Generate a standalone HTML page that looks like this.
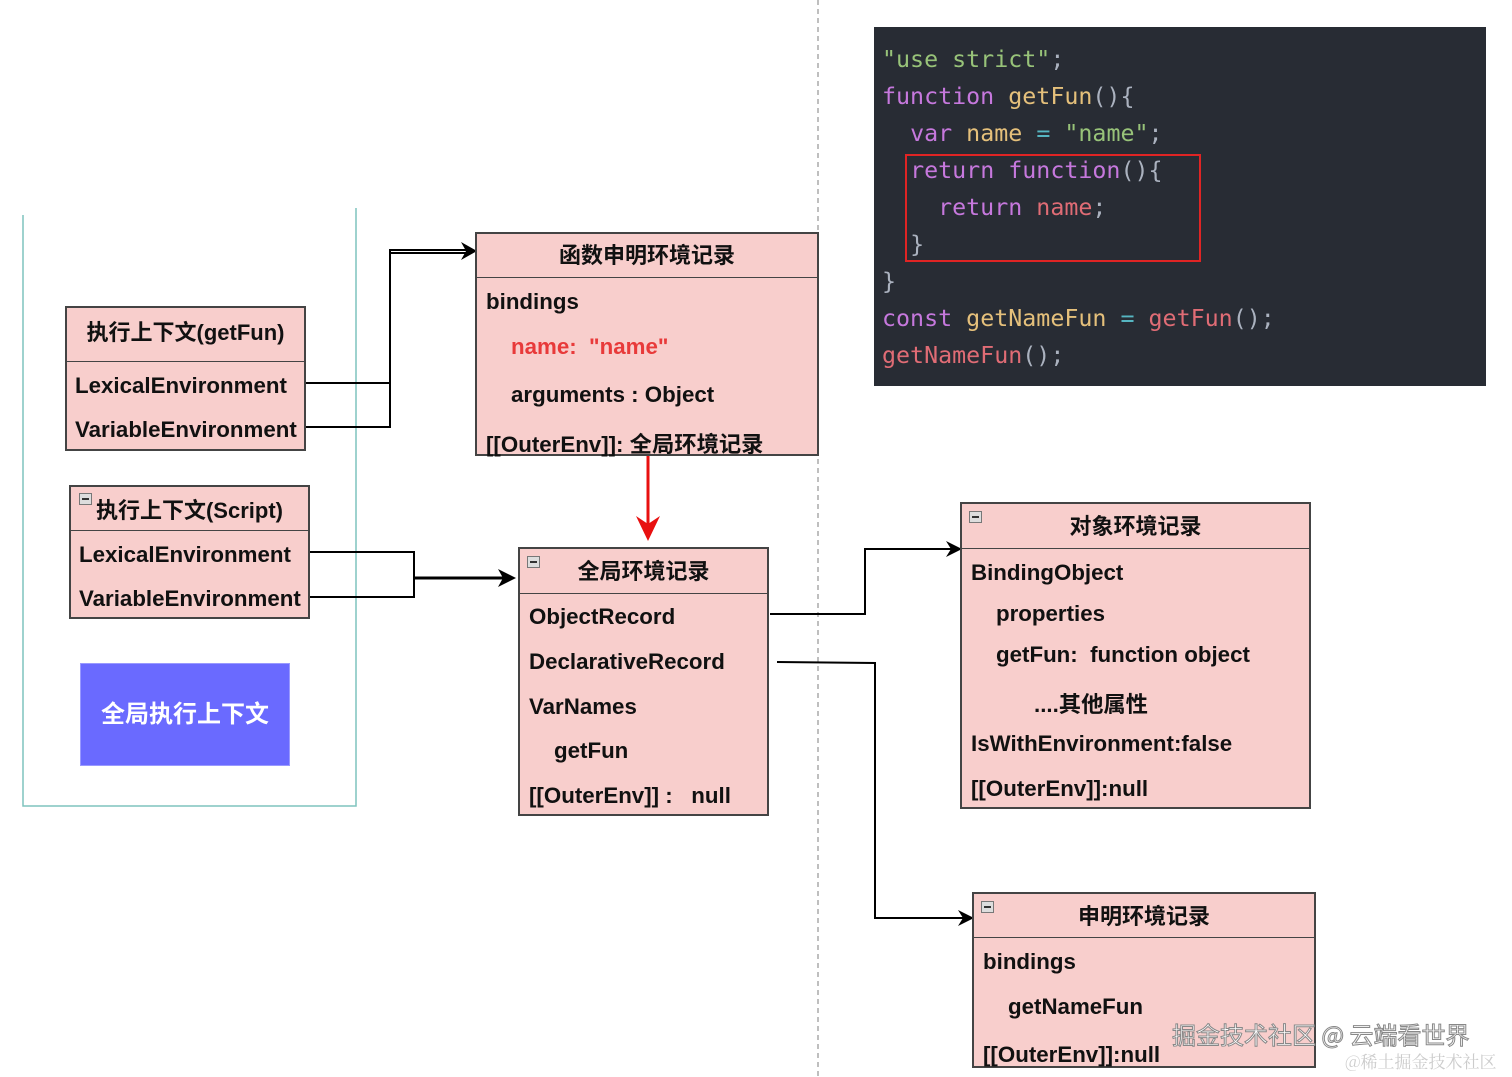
<!DOCTYPE html>
<html><head><meta charset="utf-8"><style>
body{margin:0;width:1512px;height:1077px;background:#fff;position:relative;overflow:hidden;font-family:"Liberation Sans","Noto Sans CJK SC",sans-serif;}
.b{position:absolute;background:#f8cecc;border:2px solid #444;box-sizing:border-box;}
.h{position:absolute;left:0;right:0;top:0;border-bottom:1.5px solid #444;font-weight:bold;font-size:22px;text-align:center;color:#111;}
.t{position:absolute;font-weight:bold;font-size:22.3px;color:#111;white-space:nowrap;}
.m{position:absolute;left:7px;top:7px;width:11px;height:10px;border:1px solid #777;background:#ddd;}
.m:after{content:"";position:absolute;left:2px;right:2px;top:4px;height:2px;background:#333;}
.code{position:absolute;left:874px;top:27px;width:612px;height:359px;background:#282c34;font-family:"DejaVu Sans Mono","Liberation Mono",monospace;font-size:23.3px;}
.code div{position:absolute;left:8px;white-space:pre;}
.g{color:#98c379}.p{color:#c678dd}.y{color:#e5c07b}.r{color:#e06c75}.w{color:#abb2bf}.c{color:#56b6c2}
</style></head><body>
<svg style="position:absolute;left:0;top:0" width="1512" height="1077">
<line x1="818" y1="0" x2="818" y2="1077" stroke="#aaa" stroke-width="1.5" stroke-dasharray="5,4"/>
<polyline points="23,215 23,806 356,806 356,208" fill="none" stroke="#7fc4bd" stroke-width="1.5"/>
<g stroke="#000" stroke-width="2" fill="none">
<polyline points="305,383 390,383 390,250 468,250"/>
<polyline points="305,427 390,427 390,253 468,253"/>
<polyline points="309,552 414,552 414,597 309,597"/>
<line x1="414" y1="578" x2="507" y2="578" stroke-width="3"/>
<polyline points="770,614 865,614 865,549 952,549"/>
<polyline points="777,662 875,663 875,918 964,918"/>
</g>
<g fill="#000">
<polygon points="477,251 461,242 466,251 461,260"/>
<polygon points="516,578 498,569 503,578 498,587"/>
<polygon points="962,549 946,541 951,549 946,557"/>
<polygon points="974,918 958,910 963,918 958,926"/>
</g>
<line x1="648" y1="456" x2="648" y2="525" stroke="#e81010" stroke-width="3"/>
<polygon points="648,541 636,516 648,524 660,516" fill="#e81010"/>
</svg>

<div class="b" style="left:475px;top:232px;width:344px;height:224px">
<div class="h" style="height:43px;line-height:44px">函数申明环境记录</div>
<div class="t" style="left:9px;top:55px">bindings</div>
<div class="t" style="left:34px;top:100px;color:#e83a3a">name:&nbsp; "name"</div>
<div class="t" style="left:34px;top:148px">arguments : Object</div>
<div class="t" style="left:9px;top:193px">[[OuterEnv]]: 全局环境记录</div>
</div>

<div class="b" style="left:65px;top:306px;width:241px;height:145px">
<div class="h" style="height:53px;line-height:50px">执行上下文(getFun)</div>
<div class="t" style="left:8px;top:65px">LexicalEnvironment</div>
<div class="t" style="left:8px;top:109px">VariableEnvironment</div>
</div>

<div class="b" style="left:69px;top:485px;width:241px;height:134px">
<div class="m" style="top:6px;left:8px"></div>
<div class="h" style="height:43px;line-height:48px">执行上下文(Script)</div>
<div class="t" style="left:8px;top:55px">LexicalEnvironment</div>
<div class="t" style="left:8px;top:99px">VariableEnvironment</div>
</div>

<div style="position:absolute;left:80px;top:663px;width:210px;height:103px;background:#6a6aff;border:1px solid #99f;box-sizing:border-box;color:#fff;font-weight:bold;font-size:24px;text-align:center;line-height:101px">全局执行上下文</div>

<div class="b" style="left:518px;top:547px;width:251px;height:269px">
<div class="m"></div>
<div class="h" style="height:44px;line-height:46px">全局环境记录</div>
<div class="t" style="left:9px;top:55px">ObjectRecord</div>
<div class="t" style="left:9px;top:100px">DeclarativeRecord</div>
<div class="t" style="left:9px;top:145px">VarNames</div>
<div class="t" style="left:34px;top:189px">getFun</div>
<div class="t" style="left:9px;top:234px">[[OuterEnv]] :&nbsp;&nbsp; null</div>
</div>

<div class="b" style="left:960px;top:502px;width:351px;height:307px">
<div class="m"></div>
<div class="h" style="height:44px;line-height:46px">对象环境记录</div>
<div class="t" style="left:9px;top:56px">BindingObject</div>
<div class="t" style="left:34px;top:97px">properties</div>
<div class="t" style="left:34px;top:138px">getFun:&nbsp; function object</div>
<div class="t" style="left:72px;top:183px">....其他属性</div>
<div class="t" style="left:9px;top:227px">IsWithEnvironment:false</div>
<div class="t" style="left:9px;top:272px">[[OuterEnv]]:null</div>
</div>

<div class="b" style="left:972px;top:892px;width:344px;height:176px">
<div class="m"></div>
<div class="h" style="height:43px;line-height:46px">申明环境记录</div>
<div class="t" style="left:9px;top:55px">bindings</div>
<div class="t" style="left:34px;top:100px">getNameFun</div>
<div class="t" style="left:9px;top:148px">[[OuterEnv]]:null</div>
</div>

<div class="code">
<div style="top:19px"><span class="g">"use strict"</span><span class="w">;</span></div>
<div style="top:56px"><span class="p">function</span> <span class="y">getFun</span><span class="w">(){</span></div>
<div style="top:93px">  <span class="p">var</span> <span class="y">name</span> <span class="c">=</span> <span class="g">"name"</span><span class="w">;</span></div>
<div style="top:130px">  <span class="p">return</span> <span class="p">function</span><span class="w">(){</span></div>
<div style="top:167px">    <span class="p">return</span> <span class="r">name</span><span class="w">;</span></div>
<div style="top:204px">  <span class="w">}</span></div>
<div style="top:241px"><span class="w">}</span></div>
<div style="top:278px"><span class="p">const</span> <span class="y">getNameFun</span> <span class="c">=</span> <span class="r">getFun</span><span class="w">();</span></div>
<div style="top:315px"><span class="r">getNameFun</span><span class="w">();</span></div>
<div style="left:31px;top:127px;width:296px;height:108px;border:2.5px solid #e02424;box-sizing:border-box"></div>
</div>

<div style="position:absolute;left:1172px;top:1016px;font-size:24px;color:#fff;-webkit-text-stroke:1px #888;font-family:'Noto Sans CJK SC',sans-serif;white-space:nowrap">掘金技术社区 @ 云端看世界</div>
<div style="position:absolute;left:1345px;top:1048px;font-size:17px;color:#ccc;font-family:'Noto Serif CJK SC',serif;white-space:nowrap">@稀土掘金技术社区</div>
</body></html>
